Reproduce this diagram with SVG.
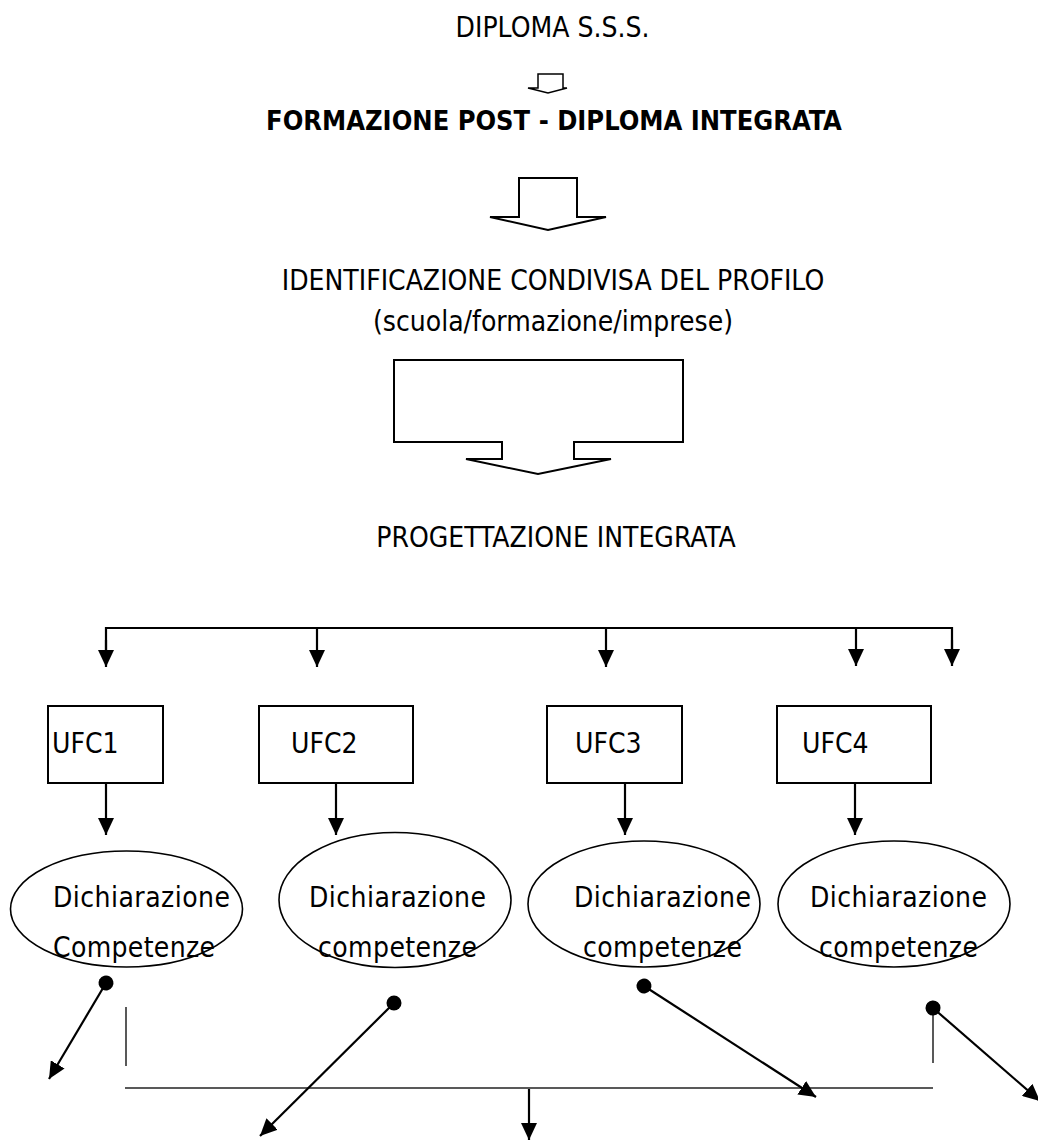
<svg xmlns="http://www.w3.org/2000/svg" width="1038" height="1142" viewBox="0 0 1038 1142">
<style>
text{font-family:"DejaVu Sans Condensed","DejaVu Sans",sans-serif;font-stretch:condensed;fill:#000;font-size:28px}
.c{text-anchor:middle}
.b{font-weight:bold;font-size:27px}
.box{fill:#fff;stroke:#000;stroke-width:2}
.ell{fill:#fff;stroke:#000;stroke-width:1.6}
.blk{fill:#fff;stroke:#000;stroke-width:2;stroke-linejoin:miter}
.ln{fill:none;stroke:#000;stroke-width:2.2}
.thin{fill:none;stroke:#222;stroke-width:1.5}
.et{font-size:28px}
</style>
<defs>
<marker id="ah" markerUnits="userSpaceOnUse" markerWidth="17" markerHeight="16" refX="17" refY="8" orient="auto" viewBox="0 0 17 16">
<path d="M0,0 L17,8 L0,16 Z" fill="#000"/>
</marker>
<marker id="dot" markerUnits="userSpaceOnUse" markerWidth="16" markerHeight="16" refX="8" refY="8" orient="auto" viewBox="0 0 16 16">
<circle cx="8" cy="8" r="7.5" fill="#000"/>
</marker>
</defs>
<rect width="1038" height="1142" fill="#fff"/>

<g id="connectors">
<path class="blk" d="M538,88 V74 H563 V88 H567 L548,93 L528,88 Z" style="stroke-width:1.5"/>
<path class="blk" d="M519,217 V178 H577 V217 H606 L548,230 L490,217 Z"/>
<path class="blk" d="M394,360 H683 V442 H574 V459 H611 L538,474 L466,459 H502 V442 H394 Z"/>
<path class="ln" d="M106,650 V628 H952 V650"/>
<line class="ln" x1="106" y1="640" x2="106" y2="667" marker-end="url(#ah)"/>
<line class="ln" x1="952" y1="640" x2="952" y2="666" marker-end="url(#ah)"/>
<line class="ln" x1="317" y1="628" x2="317" y2="667" marker-end="url(#ah)"/>
<line class="ln" x1="606" y1="628" x2="606" y2="667" marker-end="url(#ah)"/>
<line class="ln" x1="856" y1="628" x2="856" y2="666" marker-end="url(#ah)"/>
<line class="ln" x1="106" y1="778" x2="106" y2="835" marker-end="url(#ah)"/>
<line class="ln" x1="336" y1="778" x2="336" y2="835" marker-end="url(#ah)"/>
<line class="ln" x1="625" y1="778" x2="625" y2="835" marker-end="url(#ah)"/>
<line class="ln" x1="855" y1="778" x2="855" y2="835" marker-end="url(#ah)"/>
<line class="thin" x1="126" y1="1007" x2="126" y2="1066"/>
<line class="thin" x1="933" y1="1008" x2="933" y2="1063"/>
<line class="thin" x1="125" y1="1088" x2="933" y2="1088"/>
<line class="ln" x1="529" y1="1089" x2="529" y2="1140" marker-end="url(#ah)"/>
<line class="ln" x1="106" y1="983" x2="49" y2="1079" marker-start="url(#dot)" marker-end="url(#ah)"/>
<line class="ln" x1="394" y1="1003" x2="260" y2="1136" marker-start="url(#dot)" marker-end="url(#ah)"/>
<line class="ln" x1="644" y1="986" x2="816" y2="1097" marker-start="url(#dot)" marker-end="url(#ah)"/>
<line class="ln" x1="933" y1="1008" x2="1040" y2="1101" marker-start="url(#dot)" marker-end="url(#ah)"/>
</g>

<g id="n-diploma"><text class="c" x="552.5" y="37">DIPLOMA S.S.S.</text></g>
<g id="n-formazione"><text class="c b" x="554" y="130">FORMAZIONE POST - DIPLOMA INTEGRATA</text></g>
<g id="n-identificazione">
<text class="c" x="553" y="290">IDENTIFICAZIONE CONDIVISA DEL PROFILO</text>
<text class="c" x="553" y="331">(scuola/formazione/imprese)</text>
</g>
<g id="n-progettazione"><text class="c" x="556" y="547">PROGETTAZIONE INTEGRATA</text></g>

<g id="n-ufc1"><rect class="box" x="48" y="706" width="115" height="77"/><text x="52" y="753">UFC1</text></g>
<g id="n-ufc2"><rect class="box" x="259" y="706" width="154" height="77"/><text x="291" y="753">UFC2</text></g>
<g id="n-ufc3"><rect class="box" x="547" y="706" width="135" height="77"/><text x="575" y="753">UFC3</text></g>
<g id="n-ufc4"><rect class="box" x="777" y="706" width="154" height="77"/><text x="802" y="753">UFC4</text></g>

<g id="n-dich1"><ellipse class="ell" cx="126.5" cy="909" rx="116" ry="58"/>
<text class="et" x="53" y="907" textLength="177">Dichiarazione</text>
<text class="et" x="53" y="957" textLength="162">Competenze</text></g>
<g id="n-dich2"><ellipse class="ell" cx="395" cy="900" rx="116" ry="67.5"/>
<text class="et" x="309" y="907" textLength="177">Dichiarazione</text>
<text class="et" x="318" y="957" textLength="159">competenze</text></g>
<g id="n-dich3"><ellipse class="ell" cx="644" cy="904" rx="116" ry="63"/>
<text class="et" x="574" y="907" textLength="177">Dichiarazione</text>
<text class="et" x="583" y="957" textLength="159">competenze</text></g>
<g id="n-dich4"><ellipse class="ell" cx="894" cy="904" rx="116" ry="63"/>
<text class="et" x="810" y="907" textLength="177">Dichiarazione</text>
<text class="et" x="819" y="957" textLength="159">competenze</text></g>
</svg>
